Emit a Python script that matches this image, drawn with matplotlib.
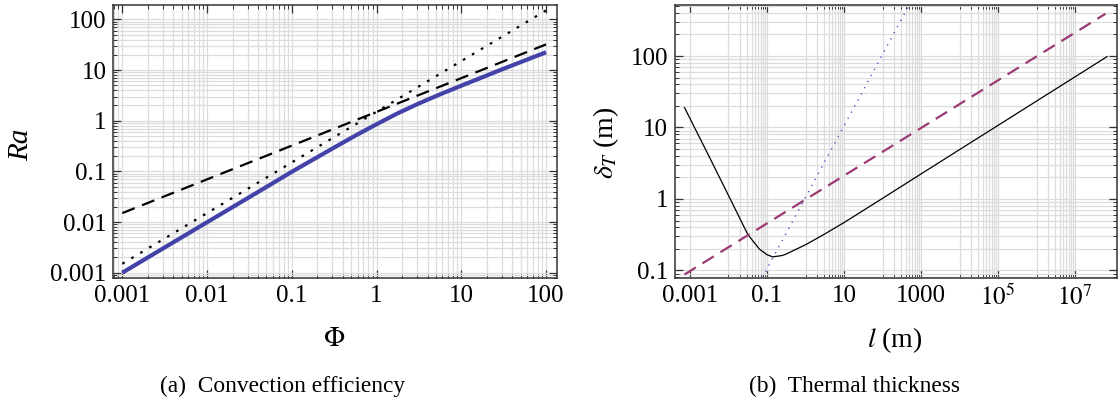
import matplotlib
matplotlib.use('Agg')
import matplotlib.pyplot as plt
from matplotlib.ticker import FixedLocator, LogLocator, NullFormatter

plt.rcParams['font.family'] = ['Liberation Serif', 'DejaVu Serif']
plt.rcParams['mathtext.fontset'] = 'stix'

# (a) convection efficiency: Ra against Phi
phi = [0.001, 0.01, 0.0316, 0.1, 0.316, 0.562, 1, 1.78, 3.16, 5.62, 10, 31.6, 100]
ra = [0.001, 0.0099, 0.031, 0.098, 0.295, 0.507, 0.85, 1.40, 2.19, 3.31, 4.9, 10.6, 22.4]
phi_dash = [0.001, 100]
ra_dash = [0.015, 32]
phi_dot = [0.001, 100]
ra_dot = [0.0015, 150]
a_ticks = [0.001, 0.01, 0.1, 1, 10, 100]
a_labels = ['0.001', '0.01', '0.1', '1', '10', '100']

# (b) thermal thickness: delta_T against l
l_solid = [7.2e-4, 3.16e-3, 0.01, 0.0316, 0.063, 0.1, 0.141, 0.25, 0.316, 1.0,
           3.16, 10, 100, 1000, 1e4, 1e5, 1e6, 6.8e7]
d_solid = [19, 3.9, 1.12, 0.32, 0.20, 0.166, 0.155, 0.162, 0.17, 0.229,
           0.324, 0.468, 1.02, 2.24, 4.9, 10.7, 23.4, 98]
l_dash = [7.2e-4, 6.2e7]
d_dash = [0.088, 390]
l_dot = [0.075, 700]
d_dot = [0.079, 735]
bx_ticks = [1e-3, 1e-1, 1e1, 1e3, 1e5, 1e7]
bx_labels = ['0.001', '0.1', '10', '1000', '$10^5$', '$10^7$']
by_ticks = [0.1, 1, 10, 100]
by_labels = ['0.1', '1', '10', '100']

fig = plt.figure(figsize=(11.19, 4.03), dpi=100)
ax1 = fig.add_axes([0.1013, 0.3102, 0.3965, 0.678])
ax2 = fig.add_axes([0.6032, 0.3102, 0.395, 0.6766])

grid_col = '#dcdcdc'


def style(ax):
    ax.set_xscale('log')
    ax.set_yscale('log')
    ax.tick_params(which='both', direction='in', top=True, right=True,
                   color='#333333', labelsize=18)
    ax.tick_params(which='major', length=6, width=0.9)
    ax.tick_params(which='minor', length=3, width=0.7)
    ax.tick_params(axis='x', pad=5)
    ax.tick_params(axis='y', pad=5)
    for s in ax.spines.values():
        s.set_color('#333333')
        s.set_linewidth(1.1)


def minor_log(axis):
    axis.set_minor_locator(LogLocator(base=10, subs=range(2, 10), numticks=100))
    axis.set_minor_formatter(NullFormatter())


style(ax1)
ax1.plot(phi, ra, color='#4242a8', lw=3.0, solid_capstyle='butt', zorder=3)
ax1.plot(phi_dash, ra_dash, color='black', lw=1.6, dashes=(6, 3.5), zorder=4)
ax1.plot(phi_dot, ra_dot, color='black', lw=1.6, dashes=(1.2, 3.5), zorder=4)
ax1.set_xlim(10**-3.106, 10**2.13)
ax1.set_ylim(10**-3.105, 10**2.288)
ax1.set_xticks(a_ticks)
ax1.set_xticklabels(a_labels)
ax1.set_yticks(a_ticks)
ax1.set_yticklabels(a_labels)
minor_log(ax1.xaxis)
minor_log(ax1.yaxis)

style(ax2)
ax2.plot(l_solid, d_solid, color='black', lw=0.9, zorder=3)
ax2.plot(l_dash, d_dash, color='#9c3a74', lw=1.6, dashes=(6, 3.5), zorder=4)
ax2.plot(l_dot, d_dot, color='#5555c8', lw=1.0, dashes=(1, 4), zorder=4)
ax2.set_xlim(10**-3.39, 10**8.09)
ax2.set_ylim(10**-1.105, 10**2.709)
ax2.xaxis.set_major_locator(FixedLocator(bx_ticks))
ax2.set_xticklabels(bx_labels)
# minor lines only in the even decades between the labelled ones
bx_minor = [m * 10.0**k for k in [-2, 0, 2, 4, 6] for m in range(1, 10)]
ax2.xaxis.set_minor_locator(FixedLocator(bx_minor))
ax2.xaxis.set_minor_formatter(NullFormatter())
ax2.set_yticks(by_ticks)
ax2.set_yticklabels(by_labels)
minor_log(ax2.yaxis)

for ax in (ax1, ax2):
    ax.grid(which='both', color=grid_col, lw=0.9, zorder=0)
    ax.set_axisbelow(True)

# axis labels and captions
fig.text(0.2985, 0.1588, r'$\Phi$', fontsize=20, ha='center', va='center')
fig.text(0.0191, 0.6402, 'Ra', fontsize=21, style='italic', rotation=90,
         ha='center', va='center')
fig.text(0.7994, 0.1563, r'$l$ (m)', fontsize=20, ha='center', va='center')
fig.text(0.5416, 0.6452, r'$\delta_T$ (m)', fontsize=20, rotation=90,
         ha='center', va='center')
fig.text(0.2529, 0.0422, '(a)  Convection efficiency', fontsize=16.8,
         ha='center', va='center')
fig.text(0.7636, 0.0422, '(b)  Thermal thickness', fontsize=16.8,
         ha='center', va='center')

fig.savefig('out.png', dpi=100)
